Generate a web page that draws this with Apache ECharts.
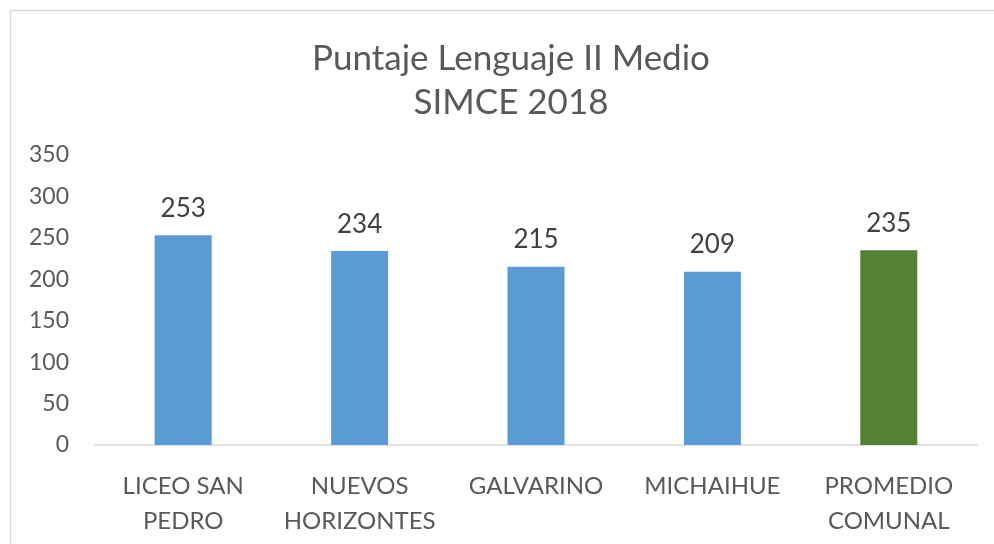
<!DOCTYPE html>
<html>
<head>
<meta charset="utf-8">
<script src="https://cdn.jsdelivr.net/npm/echarts@6/dist/echarts.min.js"></script>
<style>
  html, body { margin: 0; padding: 0; background: #fff; }
  #main { width: 994px; height: 544px; }
</style>
</head>
<body>
<div id="main"></div>
<script>
// datos del gráfico
const categories = ["LICEO SAN\nPEDRO", "NUEVOS\nHORIZONTES", "GALVARINO", "MICHAIHUE", "PROMEDIO\nCOMUNAL"];
const scores = [253, 234, 215, 209, 235];
const barColors = ["#5B9BD5", "#5B9BD5", "#5B9BD5", "#5B9BD5", "#548235"];
const yTicks = [0, 50, 100, 150, 200, 250, 300, 350];

const font = "Lato, 'Open Sans', sans-serif";
let myChart = echarts.init(document.getElementById("main"));
let option = {
  animation: false,
  title: {
    text: "Puntaje Lenguaje II Medio\nSIMCE 2018",
    left: 506,
    textAlign: "center",
    top: 32,
    textStyle: {
      fontFamily: font,
      fontSize: 35,
      fontWeight: "normal",
      color: "#595959",
      lineHeight: 44
    }
  },
  graphic: [
    {
      type: "rect",
      shape: { x: 10.5, y: 10.5, width: 1000, height: 600 },
      style: { fill: "none", stroke: "#d9d9d9", lineWidth: 1.5 },
      silent: true
    }
  ],
  grid: {
    left: 95,
    right: 17,
    top: 155,
    bottom: 99
  },
  xAxis: {
    type: "category",
    data: categories,
    axisLine: { lineStyle: { color: "#d9d9d9", width: 1.5 } },
    axisTick: { show: false },
    axisLabel: {
      fontFamily: font,
      fontSize: 24,
      color: "#595959",
      lineHeight: 35,
      margin: 24,
      interval: 0
    }
  },
  yAxis: {
    type: "value",
    min: yTicks[0],
    max: yTicks[yTicks.length - 1],
    interval: 50,
    axisLine: { show: false },
    axisTick: { show: false },
    splitLine: { show: false },
    axisLabel: {
      fontFamily: font,
      fontSize: 23,
      color: "#595959",
      margin: 26
    }
  },
  series: [
    {
      type: "bar",
      barWidth: 57,
      data: scores.map((v, i) => ({ value: v, itemStyle: { color: barColors[i] } })),
      label: {
        show: true,
        position: "top",
        distance: 14,
        fontFamily: font,
        fontSize: 26,
        color: "#404040"
      }
    }
  ]
};
myChart.setOption(option);
</script>
</body>
</html>
